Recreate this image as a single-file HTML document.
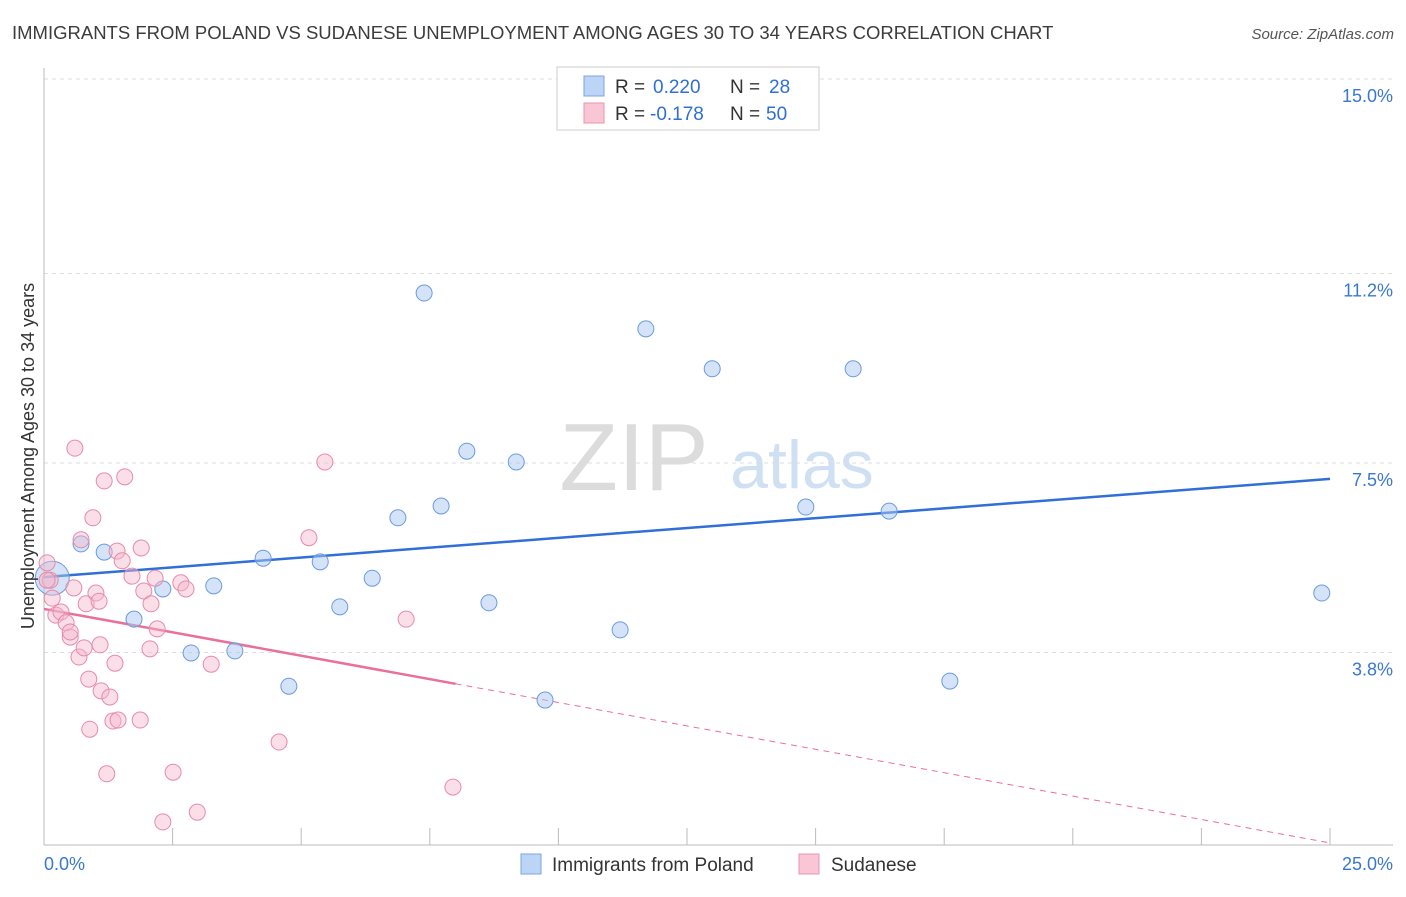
<!DOCTYPE html>
<html><head><meta charset="utf-8"><style>
body{margin:0;background:#fff;font-family:"Liberation Sans",sans-serif}
svg text{font-family:"Liberation Sans",sans-serif}
</style></head><body>
<svg id="chart" width="1406" height="892" xmlns="http://www.w3.org/2000/svg">
<text x="12" y="39" font-size="18.5" fill="#3c3c3c">IMMIGRANTS FROM POLAND VS SUDANESE UNEMPLOYMENT AMONG AGES 30 TO 34 YEARS CORRELATION CHART</text>
<text x="1394" y="39" font-size="15" fill="#555" font-style="italic" text-anchor="end">Source: ZipAtlas.com</text>
<g>
<text x="634" y="490" font-size="96" fill="#dcdcdc" font-family="Liberation Serif" text-anchor="middle">ZIP</text>
<text x="802" y="488" font-size="68" fill="#cfe0f3" text-anchor="middle">atlas</text>
</g>
<g id="grid"></g><g id="axes"></g><g id="trends"></g><g id="pts"></g>
<g>
<rect x="557" y="67" width="262" height="63" fill="#fff" stroke="#ccc"/>
<rect x="584" y="76" width="20" height="20" fill="#bcd4f5" stroke="#7aa5e3"/>
<text x="615" y="93" font-size="19" fill="#333">R = </text><text x="653" y="93" font-size="19" fill="#2f6fd6">0.220</text>
<text x="730" y="93" font-size="19" fill="#333">N = </text><text x="769" y="93" font-size="19" fill="#2f6fd6">28</text>
<rect x="584" y="103" width="20" height="20" fill="#f9c6d6" stroke="#ea93b0"/>
<text x="615" y="120" font-size="19" fill="#333">R = </text><text x="650" y="120" font-size="19" fill="#2f6fd6">-0.178</text>
<text x="730" y="120" font-size="19" fill="#333">N = </text><text x="766" y="120" font-size="19" fill="#2f6fd6">50</text>
</g>
<g>
<rect x="521" y="854" width="20" height="20" fill="#bcd4f5" stroke="#7aa5e3"/>
<text x="552" y="871" font-size="19" fill="#333">Immigrants from Poland</text>
<rect x="799" y="854" width="20" height="20" fill="#f9c6d6" stroke="#ea93b0"/>
<text x="831" y="871" font-size="19" fill="#333">Sudanese</text>
</g>
<text transform="translate(34,456) rotate(-90)" font-size="18" fill="#333" text-anchor="middle">Unemployment Among Ages 30 to 34 years</text>
</svg>
<script>
const blueX=[0.16,0.72,1.17,1.75,2.31,2.86,3.30,3.71,4.26,4.76,5.37,5.75,6.38,6.88,7.39,7.72,8.22,8.65,9.18,9.74,11.20,11.70,12.99,14.81,15.73,16.43,17.61,24.84];
const blueY=[5.25,5.92,5.76,4.45,5.04,3.79,5.10,3.83,5.64,3.14,5.57,4.69,5.25,6.43,10.82,6.66,7.73,4.77,7.52,2.87,4.24,10.12,9.34,6.64,9.34,6.56,3.24,4.96];
const pinkX=[0.06,0.12,0.16,0.23,0.33,0.43,0.51,0.51,0.58,0.60,0.68,0.72,0.78,0.82,0.87,0.89,0.95,1.01,1.07,1.11,1.17,1.22,1.28,1.34,1.38,1.42,1.44,1.52,1.57,1.71,1.87,1.89,1.94,2.06,2.08,2.16,2.20,2.31,2.51,2.66,2.76,2.98,3.25,4.57,5.15,5.46,7.04,7.95,0.06,1.09];
const pinkY=[5.55,5.21,4.86,4.53,4.59,4.38,4.10,4.20,5.06,7.79,3.71,6.00,3.89,4.75,3.28,2.30,6.43,4.96,4.80,3.05,7.15,1.43,2.93,2.46,3.59,5.78,2.48,5.59,7.23,5.29,2.48,5.84,5.00,3.87,4.75,5.25,4.26,0.49,1.46,5.16,5.04,0.68,3.57,2.05,6.04,7.52,4.45,1.17,5.21,3.95];
const yTicks=[3.8,7.5,11.2,15.0];
const yTickLabels=["3.8%","7.5%","11.2%","15.0%"];
const blueTrend=[5.27,7.19];
const pinkTrend=[4.65,0.08];
const pinkSolidEnd=8.0;
const X=v=>44+v*51.44, Y=v=>847-v*51.2;
const NS="http://www.w3.org/2000/svg";
function mk(parent,tag,attrs){const e=document.createElementNS(NS,tag);for(const k in attrs)e.setAttribute(k,attrs[k]);document.getElementById(parent).appendChild(e);return e;}
yTicks.forEach((t,i)=>{
 const g=mk('grid','line',{x1:44,x2:1393,y1:Y(t),y2:Y(t),stroke:'#ddd','stroke-dasharray':'4,4'});
 
 
 const l=mk('grid','text',{x:1393,y:Y(t)+23,'font-size':18,fill:'#3a78d0','text-anchor':'end'});
 l.textContent=yTickLabels[i];
 
 
});
const ax=mk('axes','line',{x1:44,x2:44,y1:68,y2:845,stroke:'#bbb'});


const bx=mk('axes','line',{x1:44,x2:1393,y1:845,y2:845,stroke:'#bbb'});


for(let i=1;i<=10;i++){const t=mk('axes','line',{x1:X(i*2.5),x2:X(i*2.5),y1:828,y2:845,stroke:'#bbb'});
 
 }
const xl0=mk('axes','text',{x:44,y:870,'font-size':18,fill:'#3a78d0'});xl0.textContent='0.0%';


const xl1=mk('axes','text',{x:1393,y:870,'font-size':18,fill:'#3a78d0','text-anchor':'end'});xl1.textContent='25.0%';


blueX.forEach((x,i)=>{const c=mk('pts','circle',{cx:X(x),cy:Y(blueY[i]),r:i===0?17:8,fill:'rgba(169,200,240,0.5)',stroke:'#6a9be0','stroke-width':1});
 
 });
pinkX.forEach((x,i)=>{const c=mk('pts','circle',{cx:X(x),cy:Y(pinkY[i]),r:8,fill:'rgba(245,184,203,0.45)',stroke:'#e88aa8','stroke-width':1});
 
 });
const bt=mk('trends','line',{x1:X(0),y1:Y(blueTrend[0]),x2:X(25),y2:Y(blueTrend[1]),stroke:'#2f6fd6','stroke-width':2.5});


const pAt=x=>pinkTrend[0]+(pinkTrend[1]-pinkTrend[0])*x/25;
const ps=mk('trends','line',{x1:X(0),y1:Y(pAt(0)),x2:X(pinkSolidEnd),y2:Y(pAt(pinkSolidEnd)),stroke:'#e8709a','stroke-width':2.5});


const pd=mk('trends','line',{x1:X(pinkSolidEnd),y1:Y(pAt(pinkSolidEnd)),x2:X(25),y2:Y(pAt(25)),stroke:'#e8709a','stroke-width':1,'stroke-dasharray':'6,5'});


</script>
</body></html>
